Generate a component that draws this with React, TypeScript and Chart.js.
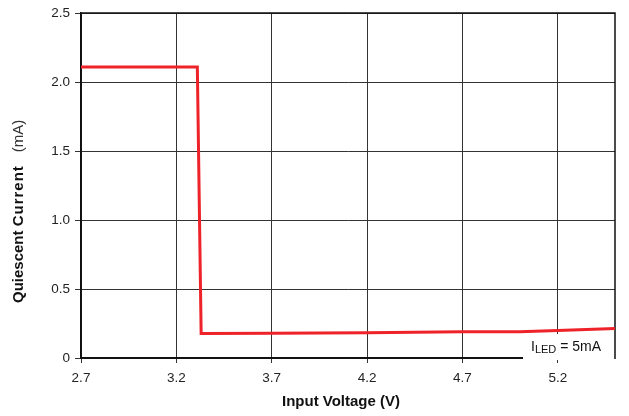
import React, { useEffect, useRef } from "react";
import { Chart, registerables } from "chart.js";

Chart.register(...registerables);

const voltage = [2.7, 3.31, 3.33, 3.7, 4.2, 4.7, 5.0, 5.2, 5.5];
const current = [2.11, 2.11, 0.178, 0.18, 0.183, 0.19, 0.19, 0.2, 0.214];
const xTicks = [2.7, 3.2, 3.7, 4.2, 4.7, 5.2];
const yTicks = [0, 0.5, 1.0, 1.5, 2.0, 2.5];
const yTickLabels = ["0", "0.5", "1.0", "1.5", "2.0", "2.5"];
const xTitle = "Input Voltage (V)";
const yTitleBold = ["Quiescent", "Current"];
const yTitleUnit = "(mA)";
const annotationMain = "I";
const annotationSub = "LED";
const annotationRest = " = 5mA";

const FONT = "'Liberation Sans', Arial, sans-serif";

const framePlugin = {
  id: "frame",
  beforeDatasetsDraw(chart: any) {
    const { ctx, chartArea } = chart;
    const { left, right, top, bottom } = chartArea;
    ctx.save();
    const boxLeft = 523;
    ctx.fillStyle = "#ffffff";
    ctx.fillRect(boxLeft, bottom - 24, right - boxLeft + 1, 26);
    ctx.strokeStyle = "#111";
    ctx.lineWidth = 1.5;
    ctx.beginPath();
    ctx.moveTo(boxLeft, bottom);
    ctx.lineTo(left, bottom);
    ctx.lineTo(left, top);
    ctx.lineTo(right, top);
    ctx.lineTo(right, bottom + 1);
    ctx.stroke();
    ctx.fillStyle = "#111";
    ctx.textBaseline = "alphabetic";
    ctx.textAlign = "left";
    let x = 531;
    const base = 351;
    ctx.font = `14px ${FONT}`;
    ctx.fillText(annotationMain, x, base);
    x += ctx.measureText(annotationMain).width;
    ctx.font = `11px ${FONT}`;
    ctx.fillText(annotationSub, x, base + 2);
    x += ctx.measureText(annotationSub).width;
    ctx.font = `14px ${FONT}`;
    ctx.fillText(annotationRest, x, base);
    ctx.restore();
  },
  afterDraw(chart: any) {
    const { ctx } = chart;
    ctx.save();
    ctx.fillStyle = "#111";
    ctx.font = `bold 15px ${FONT}`;
    ctx.textAlign = "center";
    ctx.textBaseline = "middle";
    ctx.fillText(xTitle, 341, 402);
    ctx.translate(19, 303);
    ctx.rotate(-Math.PI / 2);
    ctx.textAlign = "left";
    ctx.textBaseline = "middle";
    let pos = 0;
    ctx.font = `bold 15px ${FONT}`;
    ctx.fillText(yTitleBold[0], pos, 0);
    pos += ctx.measureText(yTitleBold[0] + " ").width;
    (ctx as any).letterSpacing = "1px";
    ctx.fillText(yTitleBold[1], pos, 0);
    pos += ctx.measureText(yTitleBold[1]).width;
    (ctx as any).letterSpacing = "0px";
    ctx.font = `15px ${FONT}`;
    ctx.fillStyle = "#333";
    pos += 13;
    ctx.fillText(yTitleUnit, pos, 0);
    ctx.restore();
  },
};

export default function App() {
  const ref = useRef<HTMLCanvasElement | null>(null);

  useEffect(() => {
    if (!ref.current) return;
    const chart = new Chart(ref.current, {
      type: "line",
      data: {
        datasets: [
          {
            data: voltage.map((v, i) => ({ x: v, y: current[i] })),
            borderColor: "#ee2229",
            borderWidth: 3,
            pointRadius: 0,
            tension: 0,
            fill: false,
          },
        ],
      },
      options: {
        animation: false,
        responsive: false,
        maintainAspectRatio: false,
        layout: { padding: { top: 7, right: 14, left: 0, bottom: 0 } },
        plugins: {
          legend: { display: false },
          tooltip: { enabled: false },
        },
        scales: {
          x: {
            type: "linear",
            min: 2.7,
            max: 5.5,
            afterBuildTicks: (scale: any) => {
              scale.ticks = xTicks.map((v) => ({ value: v }));
            },
            afterFit: (scale: any) => {
              scale.height = 58;
            },
            grid: { color: "#333", lineWidth: 1, tickLength: 5, drawTicks: true },
            border: { color: "#111", width: 1.5 },
            ticks: {
              color: "#222",
              padding: 7,
              maxRotation: 0,
              autoSkip: false,
              font: { family: FONT, size: 13.5 },
              callback: (v: any) => String(v),
            },
            title: { display: false },
          },
          y: {
            type: "linear",
            min: 0,
            max: 2.5,
            afterBuildTicks: (scale: any) => {
              scale.ticks = yTicks.map((v) => ({ value: v }));
            },
            afterFit: (scale: any) => {
              scale.width = 81;
            },
            grid: { color: "#333", lineWidth: 1, tickLength: 6, drawTicks: true },
            border: { color: "#111", width: 1.5 },
            ticks: {
              color: "#222",
              padding: 5,
              autoSkip: false,
              font: { family: FONT, size: 13.5 },
              callback: (v: any) => {
                const i = yTicks.indexOf(Number(v));
                return i >= 0 ? yTickLabels[i] : "";
              },
            },
            title: { display: false },
          },
        },
      },
      plugins: [framePlugin],
    });
    return () => chart.destroy();
  }, []);

  return (
    <div style={{ position: "absolute", left: 0, top: 0, width: 629, height: 416, background: "#fff" }}>
      <canvas ref={ref} width={629} height={416} style={{ width: 629, height: 416 }} />
    </div>
  );
}
